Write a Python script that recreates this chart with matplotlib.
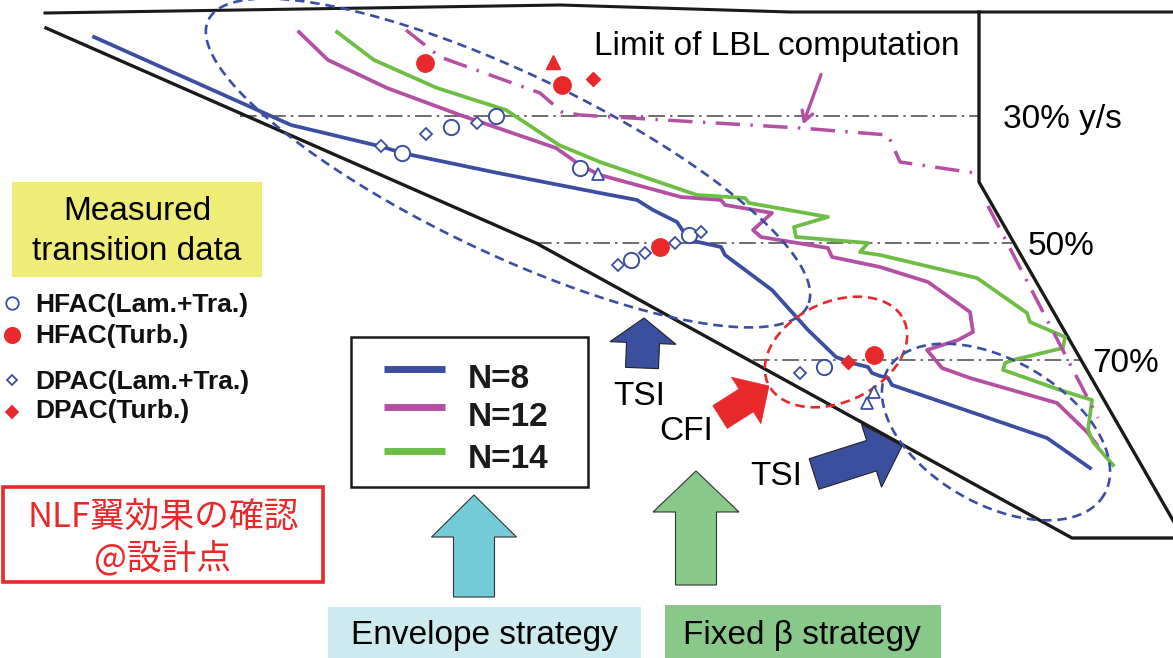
import numpy as np
import matplotlib
matplotlib.use("Agg")
import matplotlib.pyplot as plt
from matplotlib.patches import Polygon, Rectangle

# ---- computed transition lines (planform coordinates, px) ----
n8_x = [94, 291, 383, 402, 498, 600, 637, 653, 677, 689, 721, 725, 772, 790, 808,
        836, 852, 868, 872, 880, 888, 892, 1047, 1090]
n8_y = [37, 125, 147, 153, 173, 193, 200, 210, 222, 240, 247, 255, 290, 310, 330,
        357, 363, 367, 373, 376, 378, 385, 438, 468]

n12_x = [299, 328, 387, 460, 556, 580, 600, 681, 721, 725, 772, 753, 761, 828, 832,
         880, 928, 970, 973, 958, 927, 942, 970, 1057, 1087, 1097]
n12_y = [32, 60, 88, 115, 148, 165, 175, 197, 200, 205, 213, 230, 237, 248, 257,
         267, 282, 312, 332, 340, 350, 368, 378, 403, 432, 445]

n14_x = [337, 374, 437, 506, 559, 600, 697, 745, 749, 828, 794, 796, 868, 860,
         880, 977, 1027, 1030, 1065, 1063, 1013, 1005, 1003, 1012, 1060, 1092,
         1088, 1093, 1113]
n14_y = [32, 60, 88, 110, 145, 162, 195, 198, 203, 217, 227, 237, 243, 252,
         255, 278, 313, 322, 337, 348, 360, 363, 370, 373, 390, 400,
         430, 442, 465]

# limit of laminar boundary layer computation
lbl_x = [406, 440, 540, 562, 580, 800, 888, 900, 975]
lbl_y = [30, 57, 93, 112, 115, 128, 135, 162, 173]
lbl_edge_x = [988, 1098]
lbl_edge_y = [206, 418]

# ---- measured transition data ----
hfac_lam_x = [402, 451, 496, 580, 631, 689, 824]
hfac_lam_y = [153, 127, 116, 168, 260, 235, 367]
hfac_turb_x = [425, 562, 660, 874]
hfac_turb_y = [63, 85, 247, 355]
dpac_lam_x = [381, 426, 477, 618, 645, 675, 701, 800]
dpac_lam_y = [146, 134, 123, 265, 253, 243, 232, 373]
dpac_turb_x = [593, 848]
dpac_turb_y = [79, 362]
other_lam_x = [598, 874, 867]
other_lam_y = [174, 392, 403]
other_turb_x = [553]
other_turb_y = [62]

# ---- planform outline ----
top_x = [45, 560, 790, 1173]
top_y = [13, 5, 12, 12]
le_x = [46, 536, 1072, 1190]
le_y = [28, 243, 538, 538]
te_x = [979, 979, 1190]
te_y = [12, 182, 550]

station_labels = ["30% y/s", "50%", "70%"]
station_y = [116, 243, 360]
station_x0 = [240, 535, 753]
station_x1 = [978, 1012, 1080]
station_tx = [1003, 1028, 1092]
station_ty = [128, 255, 372]

series_labels = ["N=8", "N=12", "N=14"]
marker_labels = ["HFAC(Lam.+Tra.)", "HFAC(Turb.)", "DPAC(Lam.+Tra.)", "DPAC(Turb.)"]

BLUE = "#3B4EA2"
MAGENTA = "#B450A4"
GREEN = "#6DBE45"
RED = "#E8292B"
ARROW_BLUE = "#3A4F9E"
FONT = "Liberation Sans"
CJK = ["Noto Sans CJK JP", "DejaVu Sans"]

fig = plt.figure(figsize=(11.73, 6.58), dpi=100)
ax = fig.add_axes([0, 0, 1, 1])
ax.set_xlim(0, 1173)
ax.set_ylim(658, 0)
ax.axis("off")


def ellipse_xy(cx, cy, a, b, theta_deg, n=400):
    t = np.linspace(0, 2 * np.pi, n)
    th = np.radians(theta_deg)
    x = cx + a * np.cos(th) * np.cos(t) - b * np.sin(th) * np.sin(t)
    y = cy + a * np.sin(th) * np.cos(t) + b * np.cos(th) * np.sin(t)
    return x, y


def block_arrow(tail, tip, shaft_w, head_w, head_len, fc, ec="#222222", lw=0.8, z=6):
    tail = np.asarray(tail, float)
    tip = np.asarray(tip, float)
    d = tip - tail
    u = d / np.hypot(*d)
    nrm = np.array([-u[1], u[0]])
    base = tip - u * head_len
    pts = [tail + nrm * shaft_w / 2, base + nrm * shaft_w / 2, base + nrm * head_w / 2,
           tip, base - nrm * head_w / 2, base - nrm * shaft_w / 2, tail - nrm * shaft_w / 2]
    ax.add_patch(Polygon(pts, closed=True, facecolor=fc, edgecolor=ec, lw=lw, zorder=z))


# outline
ax.plot(top_x, top_y, color="#1a1a1a", lw=2.2, zorder=3)
ax.plot(le_x, le_y, color="#1a1a1a", lw=2.4, zorder=3)
ax.plot(te_x, te_y, color="#1a1a1a", lw=2.4, zorder=3)

# span stations
for y, x0, x1, lab, tx, ty in zip(station_y, station_x0, station_x1,
                                  station_labels, station_tx, station_ty):
    ax.plot([x0, x1], [y, y], color="#555555", lw=1.2,
            linestyle=(0, (10, 3, 1.5, 3)), zorder=2)
    ax.text(tx, ty, lab, fontsize=24, family=FONT, ha="left", va="baseline", zorder=8)

# transition lines
ax.plot(n8_x, n8_y, color=BLUE, lw=2.7, zorder=4)
ax.plot(n12_x, n12_y, color=MAGENTA, lw=2.7, zorder=4)
ax.plot(n14_x, n14_y, color=GREEN, lw=2.7, zorder=4)
ax.plot(lbl_x, lbl_y, color=MAGENTA, lw=2.5, linestyle=(0, (7, 3, 0.7, 3)), zorder=4)
ax.plot(lbl_edge_x, lbl_edge_y, color=MAGENTA, lw=2.5, linestyle=(0, (7, 3, 0.7, 3)), zorder=4)

# measured data
ax.plot(hfac_lam_x, hfac_lam_y, "o", ms=11, mfc="white", mec=BLUE, mew=1.4, zorder=6)
ax.plot(dpac_lam_x, dpac_lam_y, "D", ms=6.5, mfc="white", mec=BLUE, mew=1.3, zorder=6)
ax.plot(other_lam_x, other_lam_y, "^", ms=9, mfc="white", mec=BLUE, mew=1.3, zorder=6)
ax.plot(hfac_turb_x, hfac_turb_y, "o", ms=12.5, color=RED, zorder=6)
ax.plot(dpac_turb_x, dpac_turb_y, "D", ms=7.5, color=RED, zorder=6)
ax.plot(other_turb_x, other_turb_y, "^", ms=10, color=RED, zorder=6)

# grouping ellipses
ex, ey = ellipse_xy(508, 163, 332, 90, 25.5)
ax.plot(ex, ey, color=BLUE, lw=1.9, linestyle=(0, (3.6, 2.2)), zorder=5)
ex, ey = ellipse_xy(836, 352, 75, 50, -25)
ax.plot(ex, ey, color=RED, lw=1.9, linestyle=(0, (3.6, 2.2)), zorder=5)
ex, ey = ellipse_xy(996, 432, 125, 72, 30)
ax.plot(ex, ey, color=BLUE, lw=1.9, linestyle=(0, (3.6, 2.2)), zorder=5)

# LBL limit annotation
ax.annotate("", xy=(802, 127), xytext=(822, 72),
            arrowprops=dict(arrowstyle="->,head_length=0.7,head_width=0.4",
                            color=MAGENTA, lw=2.4), zorder=7)
ax.text(594, 55, "Limit of LBL computation", fontsize=24, family=FONT,
        ha="left", va="baseline", zorder=8)

# instability arrows
block_arrow((642, 368), (644, 318), 33, 66, 25, ARROW_BLUE)
block_arrow((720, 417), (769, 386), 27, 55, 27, RED, ec=RED, lw=0.5)
block_arrow((814, 474), (902, 446), 32, 66, 32, ARROW_BLUE)
ax.text(639, 405, "TSI", fontsize=24, family=FONT, ha="center", va="baseline", zorder=8)
ax.text(686, 440, "CFI", fontsize=24, family=FONT, ha="center", va="baseline", zorder=8)
ax.text(776, 485, "TSI", fontsize=24, family=FONT, ha="center", va="baseline", zorder=8)

# strategy arrows and labels
block_arrow((474, 597), (474, 495), 41, 85, 42, "#72CBD6", ec="#333333")
block_arrow((696, 585), (696, 471), 41, 86, 41, "#88C98A", ec="#333333")
ax.add_patch(Rectangle((328, 607), 313, 60, facecolor="#CDEBEF", edgecolor="none", zorder=1))
ax.add_patch(Rectangle((665, 605), 276, 60, facecolor="#88C98A", edgecolor="none", zorder=1))
ax.text(484, 644, "Envelope strategy", fontsize=24, family=FONT, ha="center", va="baseline", zorder=8)
ax.text(802, 644, "Fixed β strategy", fontsize=24, family=FONT, ha="center", va="baseline", zorder=8)

# legend for transition lines
ax.add_patch(Rectangle((351, 337), 237, 150, facecolor="white", edgecolor="#1a1a1a",
                       lw=1.8, zorder=6))
for lab, col, ly, ty in zip(series_labels, [BLUE, MAGENTA, GREEN], [369, 407, 451], [388, 426, 468]):
    ax.plot([384, 445], [ly, ly], color=col, lw=5, solid_capstyle="butt", zorder=7)
    ax.text(468, ty, lab, fontsize=24, family=FONT, weight="bold", ha="left",
            va="baseline", color="#1a1a1a", zorder=8)

# measured data legend
ax.add_patch(Rectangle((12, 182), 250, 95, facecolor="#F0EC78", edgecolor="none", zorder=1))
ax.text(137, 220, "Measured", fontsize=24, family=FONT, ha="center", va="baseline", zorder=8)
ax.text(137, 260, "transition data", fontsize=24, family=FONT, ha="center", va="baseline", zorder=8)

leg_marker = [("o", "white", BLUE, 9), ("o", RED, RED, 11), ("D", "white", BLUE, 5.5), ("D", RED, RED, 6.5)]
leg_my = [303, 335, 380, 412]
leg_ty = [312, 343, 389, 418]
for (mk, fc, ec, ms), lab, my, ty in zip(leg_marker, marker_labels, leg_my, leg_ty):
    ax.plot([12], [my], mk, ms=ms, mfc=fc, mec=ec, mew=1.3, zorder=7)
    ax.text(35, ty, lab, fontsize=19, family=FONT, weight="bold", ha="left",
            va="baseline", color="#111111", zorder=8)

# design point note
ax.add_patch(Rectangle((3, 487), 320, 95, facecolor="white", edgecolor=RED, lw=2.6, zorder=6))
ax.text(163, 517, "NLF翼効果の確認", fontsize=25, family=CJK,
        color=RED, ha="center", va="center", zorder=8)
ax.text(163, 559, "@設計点", fontsize=25, family=CJK,
        color=RED, ha="center", va="center", zorder=8)

fig.savefig("out.png", dpi=100)
